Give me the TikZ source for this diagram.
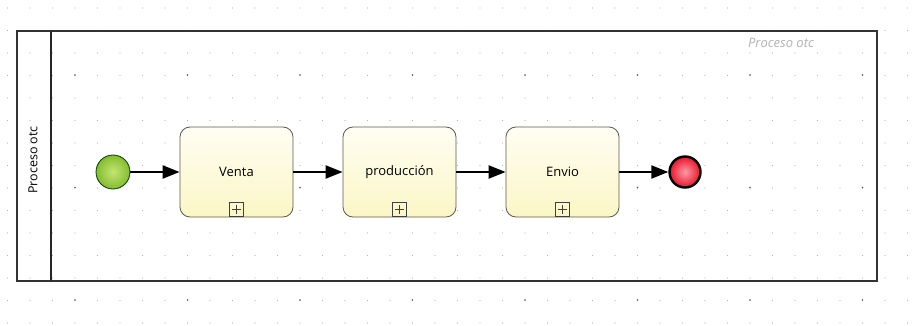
\documentclass[tikz,border=0pt]{standalone}
\usepackage{fontspec}
\setmainfont{Open Sans}
\usetikzlibrary{arrows.meta}

\definecolor{taskline}{HTML}{5A5A50}
\definecolor{tasktop}{HTML}{FFFEF2}
\definecolor{taskbottom}{HTML}{FBF6C6}
\definecolor{startin}{HTML}{C2E674}
\definecolor{startout}{HTML}{84BC2E}
\definecolor{endin}{HTML}{FF9AA6}
\definecolor{endout}{HTML}{E8142A}

\tikzset{
  griddot/.style={fill=black!30},
  bigdot/.style={fill=black!65},
  pool/.style={draw=black!80, line width=1.6pt},
  lane/.style={draw=black!85, line width=2.6pt},
  task/.style={draw=taskline, line width=0.8pt, rounded corners=10pt,
    minimum width=113pt, minimum height=90pt, top color=tasktop, bottom color=taskbottom,
    font=\fontsize{13}{15}\selectfont},
  startevent/.style={circle, draw=black!60!green!60!black, line width=0.8pt, minimum size=34pt,
    inner color=startin, outer color=startout},
  endevent/.style={circle, draw=black, line width=2.4pt, minimum size=31pt,
    inner color=endin, outer color=endout},
  flow/.style={draw=black, line width=2.2pt, -{Triangle[length=17pt,width=13pt]}},
  marker/.style={draw=black!75, line width=0.8pt}
}

\begin{document}
\begin{tikzpicture}[x=1pt,y=-1pt]
  \useasboundingbox (0,0) rectangle (923,326);

  % grid of dots
  \foreach \i in {0,...,40}
    \foreach \j in {0,...,14}
      \fill[griddot] (7.5+22.5*\i,8+22.5*\j) circle (0.55);
  \foreach \i in {0,...,7}
    \foreach \j in {0,1,2}
      \fill[bigdot] (75+112.5*\i,75+112.5*\j) circle (0.8);

  % pool and lane
  \draw[pool] (17,31) rectangle (877,281);
  \draw[lane] (51,31) -- (51,281);
  \node[rotate=90, font=\fontsize{12.5}{14}\selectfont] (poollabel) at (33,160) {Proceso otc};
  \node[text=black!30, font=\itshape\fontsize{13}{15}\selectfont] (pooltitle) at (781,43) {Proceso otc};

  % events and tasks
  \node[startevent] (start) at (113,172) {};
  \node[task] (venta) at (236.5,172) {Venta};
  \node[task] (produccion) at (399.5,172) {producción};
  \node[task] (envio) at (562.5,172) {Envio};
  \node[endevent] (end) at (685,172) {};

  % sub-process markers
  \foreach \t in {venta,produccion,envio}{
    \draw[marker] ([xshift=-7pt,yshift=1pt]\t.south) rectangle ([xshift=7pt,yshift=15pt]\t.south);
    \draw[marker] ([yshift=3.5pt]\t.south) -- ([yshift=12.5pt]\t.south);
    \draw[marker] ([xshift=-4.5pt,yshift=8pt]\t.south) -- ([xshift=4.5pt,yshift=8pt]\t.south);
  }

  % sequence flows
  \draw[flow] (start) -- (venta);
  \draw[flow] (venta) -- (produccion);
  \draw[flow] (produccion) -- (envio);
  \draw[flow] (envio) -- (end);
\end{tikzpicture}
\end{document}
